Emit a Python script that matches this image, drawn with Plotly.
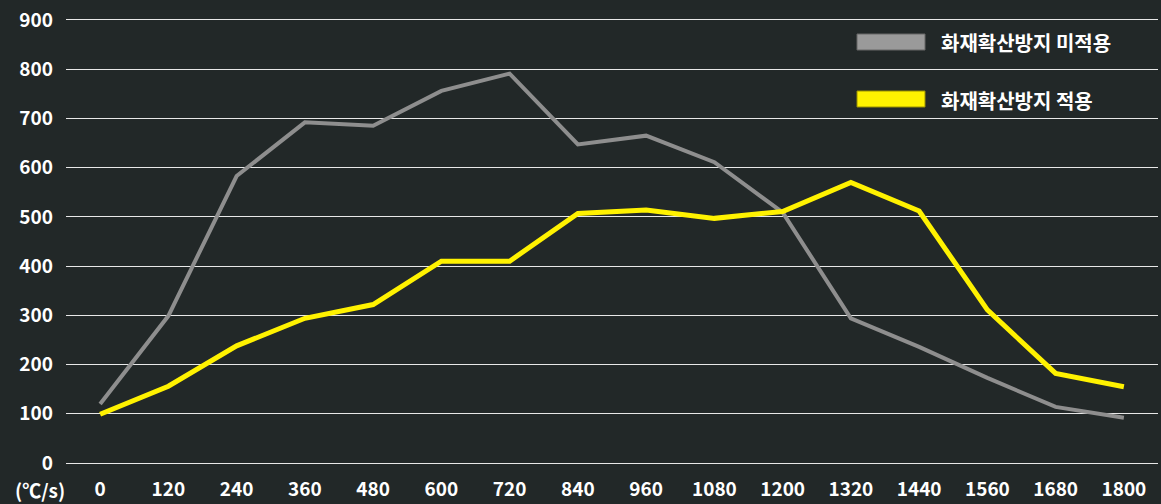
import plotly.graph_objects as go

categories = ["0", "120", "240", "360", "480", "600", "720", "840", "960",
              "1080", "1200", "1320", "1440", "1560", "1680", "1800"]
series_without = [120, 299, 583, 692, 685, 756, 791, 647, 665, 611, 509, 294, 236, 173, 114, 92]
series_with = [99, 156, 238, 294, 322, 410, 410, 507, 514, 497, 511, 570, 512, 311, 182, 155]
name_without = "화재확산방지 미적용"
name_with = "화재확산방지 적용"
y_ticks = [0, 100, 200, 300, 400, 500, 600, 700, 800, 900]
unit_label = "(℃/s)"

BG = "#222828"
GRAY = "#8e8e8e"
YELLOW = "#fff200"
FONT = "Noto Sans CJK KR"

W, H = 1161, 504
ML, MR, MT, MB = 66, 3, 17, 38
PW, PH = W - ML - MR, H - MT - MB


def px(x):
    return (x - ML) / PW


def py(y):
    return (H - MB - y) / PH


fig = go.Figure()
fig.add_trace(go.Scatter(x=categories, y=series_without, mode="lines", name=name_without,
                         line=dict(color=GRAY, width=4), showlegend=False))
fig.add_trace(go.Scatter(x=categories, y=series_with, mode="lines", name=name_with,
                         line=dict(color=YELLOW, width=5), showlegend=False))

shapes = [
    dict(type="rect", xref="paper", yref="paper", x0=px(791), x1=px(1165), y0=py(140), y1=py(-5),
         fillcolor=BG, line=dict(width=0), layer="between"),
    dict(type="rect", xref="paper", yref="paper", x0=px(857), x1=px(925), y0=py(50), y1=py(34),
         fillcolor="#9a9a9a", line=dict(color="#666666", width=1), layer="above"),
    dict(type="rect", xref="paper", yref="paper", x0=px(857), x1=px(925), y0=py(107), y1=py(91),
         fillcolor=YELLOW, line=dict(color="#9a9000", width=1), layer="above"),
]
annotations = [
    dict(text=name_without, xref="paper", yref="paper", x=px(939), y=py(43), xanchor="left",
         yanchor="middle", showarrow=False,
         font=dict(family=FONT, size=20, color="#ffffff", weight="bold")),
    dict(text=name_with, xref="paper", yref="paper", x=px(939), y=py(100), xanchor="left",
         yanchor="middle", showarrow=False,
         font=dict(family=FONT, size=20, color="#ffffff", weight="bold")),
    dict(text=unit_label, xref="paper", yref="paper", x=px(40), y=py(489), xanchor="center",
         yanchor="middle", showarrow=False,
         font=dict(family=FONT, size=19, color="#ffffff", weight="bold")),
]

fig.update_layout(
    width=W, height=H,
    margin=dict(l=ML, r=MR, t=MT, b=MB, pad=0, autoexpand=False),
    paper_bgcolor=BG, plot_bgcolor=BG,
    shapes=shapes, annotations=annotations,
    showlegend=False,
    xaxis=dict(type="category", range=[-0.5, len(categories) - 0.5], showgrid=False,
               zeroline=False, showline=False, ticks="", ticklabelstandoff=10,
               automargin=False,
               tickfont=dict(family=FONT, size=19, color="#ffffff", weight="bold")),
    yaxis=dict(range=[-6, 906], tickvals=y_ticks, showgrid=True, gridcolor="#e8e8e8",
               gridwidth=1, zeroline=False, automargin=False,
               showline=False, ticks="", ticklabelstandoff=12,
               tickfont=dict(family=FONT, size=19, color="#ffffff", weight="bold")),
)

fig.write_html("out.html", config={"displayModeBar": False},
               post_script="document.body.style.margin='0';document.body.style.overflow='hidden';")
